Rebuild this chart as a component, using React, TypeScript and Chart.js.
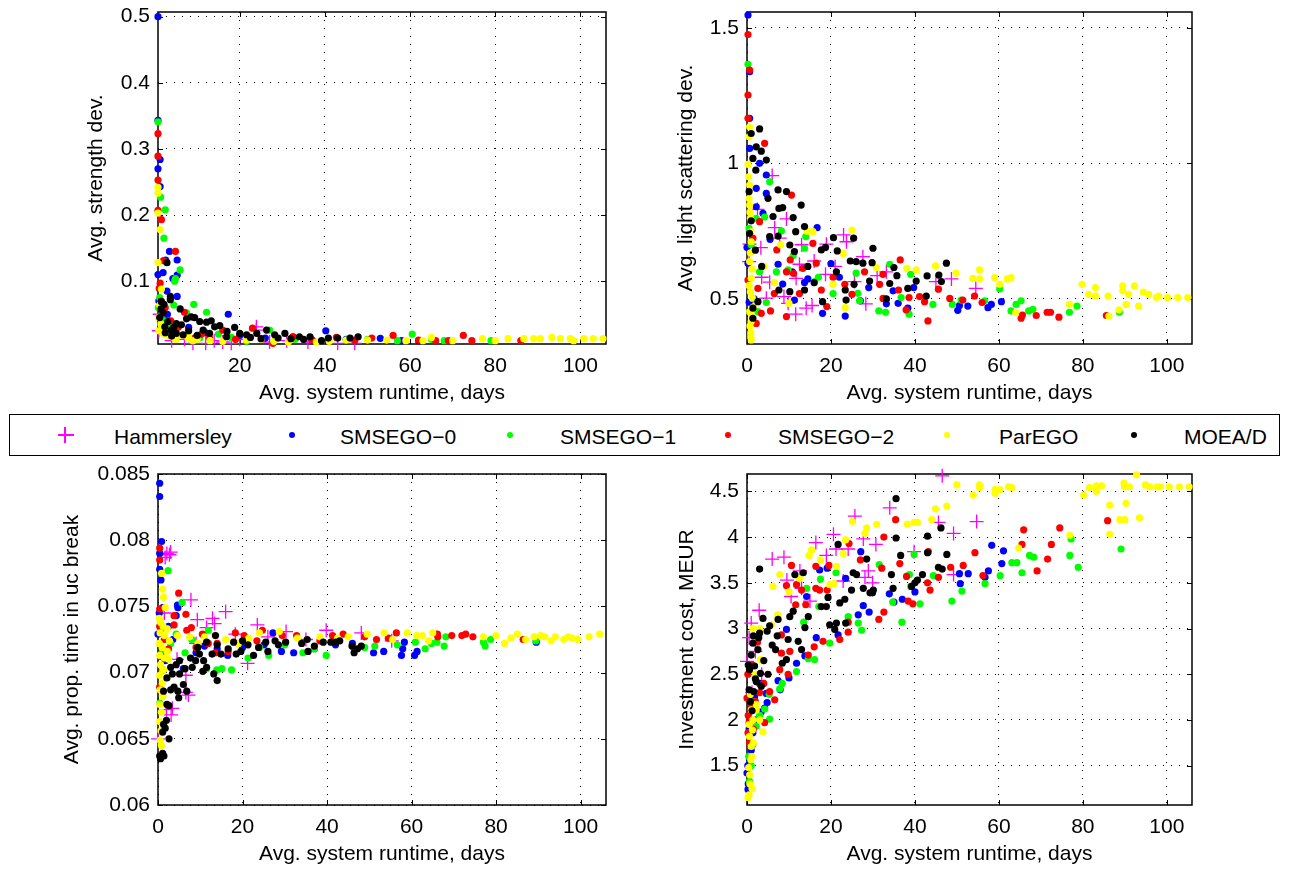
import React, { useEffect, useRef } from "react";
import { Chart, registerables } from "chart.js";

Chart.register(...registerables);

type P = [number, number];

const FONT = "'Liberation Sans', Arial, Helvetica, sans-serif";

const SERIES_NAMES = ["Hammersley", "SMSEGO\u22120", "SMSEGO\u22121", "SMSEGO\u22122", "ParEGO", "MOEA/D"];
const SERIES_COLORS = ["#ff00ff", "#0000ff", "#00ff00", "#ff0000", "#ffff00", "#000000"];

const X_TITLE = "Avg. system runtime, days";
const Y_TITLES = ["Avg. strength dev.", "Avg. light scattering dev.", "Avg. prop. time in uc break", "Investment cost, MEUR"];

const xTicksTL = [20, 40, 60, 80, 100];
const xTicksFull = [0, 20, 40, 60, 80, 100];
const yTicksTL = [0.1, 0.2, 0.3, 0.4, 0.5];
const yTicksTR = [0.5, 1, 1.5];
const yTicksBL = [0.06, 0.065, 0.07, 0.075, 0.08, 0.085];
const yTicksBR = [1.5, 2, 2.5, 3, 3.5, 4, 4.5];

// ---------- Top-left: Avg. strength dev. ----------
const tlHammersley: P[] = [[1.2,0.05],[2,0.045],[3,0.03],[5,0.02],[7,0.012],[9,0.006],[12,0.006],[16,0.008],[20,0.012],[23.9,0.026],[23.9,0.031],[27,0.008],[31,0.01],[36,0.008],[43,0.006],[47,0.006],[1,0.025],[4,0.01],[14,0.01],[18,0.006]];
const tlSmsego0: P[] = [[0.8,0.5],[0.8,0.343],[1.3,0.284],[0.8,0.27],[1.3,0.243],[0.8,0.11],[2,0.113],[3.5,0.145],[2.6,0.132],[5.3,0.132],[5.3,0.109],[4.3,0.104],[2.9,0.085],[5.3,0.077],[1,0.07],[1.5,0.06],[3,0.05],[17.3,0.05],[40.2,0.025],[53,0.0136],[32.5,0.016],[37,0.011],[58,0.01],[62,0.01],[8,0.03],[12,0.022],[20,0.018],[26,0.014],[45,0.012],[3.2,0.038]];
const tlSmsego1: P[] = [[0.8,0.341],[1.4,0.227],[2.5,0.208],[2.2,0.165],[6,0.117],[4.9,0.104],[4.7,0.1],[1.2,0.075],[9.2,0.065],[12.2,0.053],[4.5,0.064],[7.5,0.052],[60.5,0.02],[68,0.01],[79,0.01],[57,0.01],[27,0.026],[21.6,0.009],[10.6,0.014],[0.9,0.06],[2,0.04],[3.5,0.03],[15,0.02],[33,0.012],[45,0.011],[50,0.012],[65,0.012],[18,0.015]];
const tlSmsego2: P[] = [[0.8,0.323],[0.8,0.289],[0.8,0.253],[0.8,0.207],[1.6,0.193],[2.1,0.131],[4.9,0.145],[1.3,0.097],[1.1,0.089],[7,0.053],[16,0.026],[23,0.029],[32.5,0.016],[42.7,0.015],[51,0.014],[56,0.018],[66,0.01],[69,0.01],[72.5,0.018],[74.5,0.01],[86,0.01],[9.4,0.014],[12.9,0.014],[27.8,0.006],[1.5,0.07],[2.5,0.06],[3.8,0.04],[5.5,0.03],[11,0.02],[19,0.012],[37,0.011],[47,0.01],[62,0.011]];
const tlParego: P[] = [[0.8,0.242],[0.8,0.233],[0.8,0.203],[1.3,0.178],[0.8,0.128],[1.6,0.088],[1.2,0.064],[2,0.021],[2.7,0.019],[7.8,0.014],[16,0.009],[31.4,0.008],[41,0.009],[50,0.011],[54.5,0.011],[59,0.01],[63,0.01],[65,0.015],[77,0.013],[80,0.01],[83,0.013],[86.7,0.013],[89,0.013],[90.6,0.013],[93.3,0.015],[95.3,0.013],[97.6,0.013],[98.4,0.01],[100.8,0.013],[103,0.013],[105.3,0.013],[45,0.011],[38,0.008],[21.6,0.011],[0.9,0.045],[1.5,0.035],[3.5,0.017],[5,0.012],[10,0.012],[13,0.01],[25,0.012],[28,0.009],[70,0.01],[1,0.025],[2,0.026],[3,0.02],[4.5,0.015],[6,0.018],[8,0.015],[9,0.01]];
const tlMoead: P[] = [[2.9,0.128],[3.7,0.077],[3.7,0.072],[6,0.058],[1.6,0.069],[2,0.052],[3.1,0.039],[5.1,0.036],[7.5,0.043],[9.4,0.045],[2.4,0.031],[3.9,0.026],[6.3,0.034],[8.6,0.046],[10.6,0.039],[12.2,0.038],[13.3,0.04],[14.1,0.031],[15.3,0.033],[11.4,0.026],[12.9,0.021],[18.8,0.03],[20,0.021],[21.6,0.019],[24,0.021],[26.3,0.026],[28.2,0.019],[30.6,0.021],[34,0.016],[36.5,0.016],[39.2,0.01],[40.8,0.014],[43,0.014],[45.9,0.014],[47.8,0.016],[16.9,0.016],[6.7,0.019],[5.1,0.021],[1.2,0.045],[1.5,0.058],[2.2,0.065],[4.5,0.03],[8,0.025],[10,0.018],[17,0.024],[22.5,0.015],[25,0.013],[29,0.014],[32,0.013],[35,0.012],[2.5,0.022],[4,0.017]];

// ---------- Top-right: Avg. light scattering dev. ----------
const trHammersley: P[] = [[6,0.955],[6.6,0.763],[9.4,0.795],[3.3,0.689],[7.8,0.724],[23,0.736],[23.7,0.711],[27.6,0.656],[18.9,0.702],[12.5,0.628],[11.7,0.576],[18.7,0.591],[15.5,0.476],[14.1,0.466],[11.6,0.444],[5.4,0.562],[4.6,0.503],[8.8,0.509],[9.8,0.484],[28.3,0.482],[33.2,0.6],[31,0.586],[45,0.564],[48.7,0.574],[54.5,0.539],[25.6,0.564],[0.6,0.702],[0.5,0.638],[2.5,0.83],[16,0.64],[21,0.62],[13,0.7],[3.5,0.58]];
const trSmsego0: P[] = [[0.24,1.547],[0.63,1.338],[0.63,1.166],[0.63,1.055],[3,1.0],[4.6,0.957],[2.2,0.908],[4.6,0.889],[2.2,0.84],[3.8,0.816],[7.4,0.628],[16.7,0.763],[18,0.447],[23.4,0.437],[27,0.493],[29,0.542],[33.2,0.482],[34.8,0.53],[36,0.484],[38.3,0.466],[39.7,0.542],[50.2,0.458],[50.6,0.476],[52.6,0.474],[57.4,0.468],[58.2,0.48],[60.6,0.49],[0,0.69],[0.24,0.632],[0.5,0.488],[1.7,0.5],[11.3,0.496],[13.7,0.561],[14.5,0.574],[20,0.63],[8.5,0.555],[10.8,0.6],[5.5,0.72],[22,0.58]];
const trSmsego1: P[] = [[0.24,1.365],[2.2,0.797],[4.2,0.802],[5.4,0.932],[8.2,0.751],[9.8,0.607],[14,0.73],[13.7,0.687],[7,0.6],[16.1,0.564],[26,0.595],[26.4,0.521],[26.8,0.493],[31.4,0.456],[33,0.451],[34,0.628],[36.7,0.505],[38.6,0.444],[39,0.591],[44.3,0.48],[48.9,0.48],[51,0.496],[56.6,0.493],[60.2,0.537],[62.9,0.456],[64.1,0.48],[65.3,0.493],[67.1,0.456],[68.1,0.462],[76.8,0.451],[78.6,0.474],[88.7,0.451],[0.5,0.76],[1,0.7],[2.6,0.453],[4.6,0.487],[3,0.6],[17,0.58],[11,0.66],[20.5,0.52]];
const trSmsego2: P[] = [[0.24,1.475],[0.63,1.344],[0.24,1.252],[0.24,1.166],[4.2,1.074],[10.6,0.883],[3,0.785],[1.4,0.724],[15.7,0.705],[7.1,0.681],[10.3,0.644],[9.4,0.6],[16.5,0.632],[11.1,0.594],[13.3,0.613],[0.24,0.57],[2.6,0.539],[3.4,0.447],[5.6,0.456],[9.4,0.435],[2.2,0.41],[17.7,0.533],[19,0.472],[23.3,0.554],[25,0.517],[32.4,0.591],[31.6,0.554],[32.4,0.502],[36.5,0.644],[36.1,0.533],[38.6,0.505],[37.9,0.46],[41.1,0.509],[42.3,0.49],[43.1,0.419],[45.6,0.536],[48.3,0.502],[51.4,0.496],[54.2,0.511],[56,0.487],[65.3,0.429],[65.6,0.441],[68.9,0.439],[71.5,0.451],[72.3,0.451],[74.3,0.433],[85.6,0.439],[6.5,0.52],[20.5,0.58],[28,0.6],[12.5,0.52]];
const trParego: P[] = [[0.63,1.135],[0.5,1.098],[0.24,0.996],[0.63,0.92],[0.63,0.846],[0.8,0.797],[0.9,0.748],[1,0.711],[0.63,0.638],[1,0.576],[0.8,0.527],[1.3,0.503],[0.63,0.453],[1,0.417],[0.9,0.374],[1,0.349],[0.5,0.87],[0.8,0.67],[1.2,0.61],[0.5,0.55],[1.5,0.47],[0.7,0.4],[0.9,0.36],[1.1,0.44],[0.4,0.95],[0.7,0.82],[25,0.754],[23.4,0.468],[15.7,0.748],[22.9,0.668],[30.8,0.616],[38.1,0.613],[40.3,0.607],[44.9,0.622],[49.8,0.595],[53.8,0.576],[55.4,0.607],[55.4,0.574],[59,0.579],[60.2,0.554],[62,0.574],[62.9,0.579],[76.8,0.48],[79.8,0.554],[81.4,0.517],[83,0.542],[83,0.511],[86,0.511],[86.2,0.437],[88.6,0.46],[89.5,0.548],[89.5,0.53],[90.3,0.48],[90.9,0.517],[92.3,0.548],[93.3,0.474],[94.4,0.525],[95.7,0.517],[97.5,0.505],[98.1,0.511],[100.2,0.505],[102.6,0.505],[105,0.505],[10,0.484],[20.5,0.554],[14.3,0.75],[4,0.62],[6.5,0.56],[8,0.7],[64,0.45]];
const trMoead: P[] = [[3,1.127],[1,1.11],[2.2,1.061],[3.4,1.045],[4.6,1.012],[1.4,1.018],[2.1,0.975],[0.5,0.896],[1,0.788],[0.6,0.742],[7.4,0.902],[9.4,0.896],[7.6,0.834],[8.5,0.837],[5,0.871],[6.2,0.804],[11,0.8],[12.9,0.846],[13.7,0.767],[11.6,0.748],[5.4,0.73],[7.4,0.732],[10.2,0.699],[11.3,0.675],[17.7,0.681],[18.7,0.69],[20.6,0.726],[21.5,0.677],[25.4,0.724],[27.6,0.632],[30,0.687],[29.8,0.634],[26,0.638],[24.6,0.64],[21.3,0.6],[23.4,0.533],[25.5,0.554],[29.2,0.566],[34,0.557],[35,0.616],[35.7,0.586],[38.3,0.539],[40.3,0.566],[42.9,0.585],[42.7,0.511],[45.7,0.588],[46.3,0.564],[47.5,0.632],[1.4,0.466],[1.4,0.429],[2.6,0.49],[18,0.49],[33.2,0.5],[7.6,0.533],[10.2,0.527],[23.6,0.496],[13.7,0.533],[3.5,0.62],[2,0.68],[14.5,0.62],[16,0.56]];

// ---------- Bottom-left: Avg. prop. time in uc break ----------
const blHammersley: P[] = [[2.7,0.0789],[2.1,0.079],[1.7,0.0787],[3,0.0791],[7.8,0.0755],[16,0.0746],[12.9,0.0741],[9.3,0.074],[23.5,0.0736],[30.3,0.0731],[39.8,0.0732],[48.1,0.073],[55.3,0.0724],[21.2,0.0707],[6.6,0.0698],[6.6,0.0685],[3.1,0.0668],[3.4,0.0673],[0,0.065],[11.5,0.0734],[18.3,0.0729],[13.4,0.0737],[7.2,0.0683],[2,0.0672],[4.5,0.071],[1.5,0.0745],[26,0.0727],[35,0.0725],[9,0.0722]];
const blSmsego0: P[] = [[0.4,0.0843],[0.4,0.0833],[0.85,0.0799],[0.4,0.079],[0.4,0.0778],[0.7,0.077],[0.3,0.0745],[4.7,0.0749],[4.3,0.0743],[4.6,0.0751],[1.1,0.0749],[27.2,0.073],[32.1,0.0715],[51,0.0715],[53.4,0.0716],[57.6,0.0713],[57.9,0.0718],[60.7,0.0713],[61.3,0.0716],[58.3,0.0723],[89.5,0.0723],[14,0.0718],[20,0.0719],[25.1,0.0721],[29.2,0.0716],[0,0.0729],[1.7,0.0709],[3.5,0.0725],[6,0.0703],[9,0.0715],[11,0.072],[16.5,0.0713],[37,0.0718],[42,0.0721],[46,0.0722],[2.5,0.0735]];
const blSmsego1: P[] = [[2.4,0.0777],[5.7,0.0753],[4.3,0.0729],[11.9,0.0732],[11.5,0.0703],[13.9,0.0702],[15.1,0.0703],[17.4,0.0702],[0.4,0.0677],[6.4,0.0715],[21.3,0.0711],[26.2,0.0713],[34.3,0.0715],[37,0.0718],[39.8,0.0713],[46.4,0.0718],[48.9,0.0719],[51.3,0.072],[56.6,0.0721],[60.9,0.0723],[63.2,0.0718],[64.7,0.0722],[66,0.0723],[67.7,0.072],[68.1,0.0727],[77,0.0723],[77.4,0.072],[78.7,0.0725],[89.4,0.0724],[0.6,0.0732],[8,0.0725],[19,0.0722],[24,0.0719],[30,0.0721],[3,0.0722],[1,0.0716]];
const blSmsego2: P[] = [[0.4,0.0794],[0.4,0.0785],[0.4,0.0748],[0.4,0.0735],[0.4,0.0689],[4.9,0.076],[6.6,0.0744],[3.8,0.0743],[3.8,0.0736],[6.8,0.0732],[7.9,0.0734],[10.5,0.0729],[11.9,0.0722],[14,0.0722],[18.3,0.073],[20.4,0.0728],[23.4,0.0724],[24.7,0.0732],[29.4,0.0728],[32.8,0.0728],[38.3,0.0724],[41.3,0.0728],[43.8,0.0729],[48.9,0.0727],[51.7,0.0725],[54.5,0.0726],[56.4,0.073],[66.1,0.0729],[66.2,0.0727],[69.5,0.0728],[71.9,0.0728],[72.8,0.0729],[74.5,0.0727],[86.4,0.0725],[13.6,0.0715],[16.6,0.0716],[1.5,0.0725],[2.5,0.0718],[9,0.0719],[0.8,0.0712],[1.2,0.0702]];
const blParego: P[] = [[0.85,0.0775],[1.1,0.0763],[1.3,0.0757],[1.7,0.0749],[0.3,0.0741],[0.6,0.0738],[1.2,0.0735],[2.2,0.0733],[0.5,0.073],[1.5,0.0728],[2.7,0.0724],[0.3,0.0722],[1,0.0719],[2.2,0.0716],[0.4,0.0713],[1.5,0.0711],[2.5,0.071],[0.6,0.0706],[1.3,0.0702],[0.4,0.0698],[1,0.0692],[0.5,0.0687],[1.2,0.0682],[0.4,0.0676],[0.8,0.067],[0.4,0.0663],[0.7,0.0656],[0.5,0.0649],[0.8,0.0645],[4.6,0.0728],[7.5,0.0727],[9.5,0.0722],[11,0.0727],[13.5,0.0728],[16,0.0725],[19,0.0722],[21.5,0.0726],[24,0.073],[28.7,0.0731],[33,0.0726],[38.3,0.0727],[42.5,0.0726],[45,0.0727],[49.5,0.0729],[53.5,0.073],[55.5,0.0725],[59,0.073],[61.2,0.0728],[62.6,0.0728],[64,0.0724],[65,0.073],[77,0.0727],[80,0.0728],[82,0.0722],[83.5,0.0726],[85,0.0729],[87,0.0725],[89,0.0727],[90.5,0.0728],[91.5,0.0727],[93,0.0724],[94,0.0727],[96,0.0725],[97,0.0727],[98,0.0726],[99.3,0.0725],[102,0.0727],[104.5,0.0729]];
const blMoead: P[] = [[0.4,0.0637],[1.1,0.0639],[0.6,0.0635],[1.4,0.0637],[1.1,0.0655],[1.7,0.0658],[1.3,0.0661],[2,0.0664],[2.6,0.0675],[2.1,0.0676],[2.6,0.065],[1.3,0.0686],[2.1,0.0696],[3.4,0.0699],[3,0.0704],[4.3,0.0706],[5.1,0.0709],[3,0.0687],[3.8,0.0689],[4.7,0.0686],[6,0.0691],[4.9,0.0681],[6.8,0.0686],[5.1,0.0699],[6.4,0.0703],[7.7,0.0711],[8.9,0.0709],[8.1,0.0704],[9.8,0.0714],[10.8,0.0709],[11.5,0.0704],[13.2,0.0699],[14,0.0694],[10.6,0.0701],[9.4,0.0719],[11.5,0.0723],[12.8,0.0714],[13.6,0.0728],[14,0.0721],[14.9,0.0714],[16.6,0.0718],[17.9,0.0723],[18.5,0.0714],[20,0.0724],[19.6,0.0716],[21.3,0.0721],[22.6,0.0713],[23.8,0.0719],[25.5,0.0723],[26,0.0716],[27.7,0.0724],[28.5,0.0721],[30.2,0.0723],[34,0.0722],[35.3,0.0725],[35.5,0.0716],[37,0.072],[39.1,0.0723],[40.9,0.0723],[42.1,0.0723],[43,0.0724],[45.9,0.072],[46.4,0.0715],[47.2,0.0718],[48.1,0.072]];

// ---------- Bottom-right: Investment cost, MEUR ----------
const brHammersley: P[] = [[0,2.64],[1,3.06],[2.9,3.2],[6,3.76],[8.8,3.78],[9.5,3.53],[12.6,3.63],[13,3.44],[16.4,3.94],[18.9,3.8],[20.6,4.03],[21.2,3.87],[24.1,3.87],[25.7,4.23],[27.7,3.98],[28.1,3.56],[28.9,3.63],[30.7,3.92],[29.9,3.5],[34,4.32],[39.8,3.84],[45.6,4.16],[46.5,4.67],[49.2,4.04],[49.2,3.59],[54.7,4.17],[22.9,3.52],[2,2.75],[3.5,2.5],[1.2,2.3],[0.5,2.9],[10.5,3.35],[15,3.3]];
const brSmsego0: P[] = [[0,1.42],[0.24,1.24],[0.6,1.57],[1,1.67],[1.4,1.86],[2.2,2.0],[3.4,2.09],[4.2,2.13],[4.8,2.19],[4.6,2.29],[7.4,2.43],[7.9,2.33],[10,2.46],[9.4,2.99],[11.8,2.62],[13.8,2.7],[14.2,3.35],[16.5,2.9],[17.3,3.64],[19.1,3.66],[21.7,2.93],[23.5,3.55],[26.5,3.15],[27.1,3.84],[27.7,3.25],[29.1,3.18],[33.9,3.38],[35,3.29],[37,3.32],[40,3.4],[50.6,3.6],[50.8,3.49],[52.7,3.6],[56.7,3.56],[57.5,3.63],[58.3,3.91],[60.7,3.71],[61.1,3.85],[0.3,1.3],[0.5,1.9],[1.8,2.25],[3,2.4],[0.8,2.1],[0.2,1.5]];
const brSmsego1: P[] = [[0.6,1.33],[1.4,1.73],[2.2,1.93],[4.2,2.12],[5.4,2.01],[5.3,2.28],[7.8,2.34],[8.4,2.4],[11.8,2.53],[14.6,2.67],[16.1,2.66],[13.5,3.07],[14.2,3.44],[17.1,3.24],[17.5,3.54],[19.7,2.84],[21.2,3.61],[24.1,3.13],[26.5,3.06],[27.3,2.98],[31.5,3.7],[34.7,3.29],[36.9,3.07],[38.7,3.59],[39,3.46],[39.8,3.81],[41.2,3.27],[44.4,3.58],[48.8,3.3],[51.2,3.41],[56.7,3.49],[60.3,3.58],[63.1,3.72],[64.3,3.72],[65.5,3.61],[67.3,3.8],[68.3,3.78],[76.9,3.8],[77.2,3.98],[78.9,3.67],[89.1,3.87],[1,1.5],[0.4,1.6],[1.8,2.2],[3,2.05]];
const brSmsego2: P[] = [[0,2.24],[0.5,1.97],[0.24,1.86],[4.2,1.97],[6.6,2.22],[5.4,2.31],[7.8,2.55],[8.2,2.73],[8.2,2.93],[9.8,2.5],[10.2,2.75],[9.4,3.47],[10.6,3.69],[11.8,3.48],[11.6,3.26],[13,3.42],[14,3.26],[14.6,2.71],[16,2.8],[16.4,3.44],[16.4,3.68],[17.3,3.42],[18.1,2.86],[19.1,3.42],[19.5,3.69],[22.1,2.88],[24.1,2.96],[24.3,3.93],[24.1,3.07],[27,3.75],[31.4,3.1],[32.6,3.18],[32.1,3.66],[32.6,4.0],[35.4,4.19],[36.4,3.71],[38,3.57],[38.4,3.3],[39.5,3.27],[43,3.5],[43.2,3.84],[43.6,3.42],[45.6,3.56],[48.5,3.67],[51.5,3.69],[54.3,3.83],[56.2,3.58],[65.5,3.92],[65.9,4.08],[69.1,3.63],[71.6,3.76],[72.5,3.92],[74.5,4.1],[85.9,4.18],[0.3,2.05],[1,2.15],[1.5,1.9],[2,2.2],[0.6,1.75],[3,2.3],[4,2.4],[0.2,2.5],[1.2,2.6],[2.5,2.85]];
const brParego: P[] = [[0.24,1.15],[0.5,1.18],[0.64,1.4],[0.9,1.565],[1,1.71],[0.6,1.82],[1.3,1.89],[1.4,2.0],[1,2.11],[0.8,2.28],[2.2,2.17],[3.8,1.87],[2.2,2.11],[0.7,1.3],[1.1,1.6],[1.5,1.75],[0.5,1.95],[0.4,1.48],[1.2,1.25],[3,2.0],[3.2,2.66],[1.4,3.0],[2,2.5],[3,3.0],[6.2,3.46],[5.8,3.04],[7.8,3.59],[15.4,3.86],[14.8,3.8],[19.7,3.48],[20.7,3.49],[21.3,3.68],[22.9,3.82],[23.5,3.97],[25.1,4.17],[28.1,4.04],[28.5,4.1],[30.9,4.14],[38.2,4.14],[39.8,4.16],[40.6,4.16],[44,4.19],[44.9,4.31],[47.6,4.34],[50,4.57],[53.9,4.46],[55.4,4.57],[55.4,4.54],[59.1,4.52],[59.1,4.48],[60.3,4.52],[62.3,4.55],[63.1,4.54],[64.7,3.88],[76.9,4.02],[80.2,4.46],[81.6,4.54],[83.2,4.56],[83.2,4.5],[84.5,4.56],[86.4,4.35],[86.4,4.03],[88.8,4.19],[89.8,4.59],[89.9,4.55],[90,4.19],[90.3,4.37],[91.1,4.55],[92.8,4.68],[93.5,4.21],[94.9,4.57],[95.9,4.55],[97.7,4.55],[98.5,4.55],[100.6,4.55],[103,4.55],[105.3,4.55],[7.3,3.15],[10,3.4],[12.5,3.55],[17.5,3.75]];
const brMoead: P[] = [[3,3.65],[1.6,2.31],[0.6,2.55],[1,2.71],[1.4,2.84],[2.6,2.77],[3,2.95],[3.8,3.11],[4.8,2.97],[5.4,3.03],[6,2.82],[7.2,2.92],[6.8,2.77],[7.4,3.1],[8.4,2.62],[9.4,2.66],[9.8,2.88],[10.2,3.13],[11,3.19],[11.4,3.59],[12.2,2.86],[13,2.77],[13.4,3.61],[13.8,3.01],[14.6,3.13],[17.7,3.24],[18.9,3.24],[19.3,3.34],[19.7,3.04],[20.9,2.99],[21.3,3.06],[21.7,3.92],[22.1,3.28],[23.3,3.32],[23.5,3.06],[24.9,3.42],[25.3,3.61],[26.1,3.59],[27.7,3.44],[28.5,3.76],[29.3,3.39],[29.9,3.39],[30.1,3.42],[34.4,3.59],[34.8,3.44],[35.5,3.99],[35.5,4.42],[36.6,3.8],[39.2,3.46],[40,3.5],[40.6,3.53],[41.8,3.59],[43,4.01],[43,3.83],[45.6,3.67],[46.2,4.1],[46.5,3.65],[47.6,3.81],[0.5,2.33],[1.8,2.59],[2.2,2.42],[3.4,2.37],[3.2,2.51],[0.8,2.2],[1.2,2.1],[2,2.45],[4,2.65],[5,2.5],[0.3,2.6],[1.5,2.92],[2.8,2.9]];

type PanelCfg = {
  left: number; top: number; width: number; height: number;
  xMin: number; xMax: number; yMin: number; yMax: number;
  xTicks: number[]; yTicks: number[];
  yTitle: string; yTitlePad: number;
  series: P[][];
};

const PANELS: PanelCfg[] = [
  { left: 158, top: 12, width: 448, height: 332, xMin: 0.8, xMax: 106, yMin: 0.005, yMax: 0.507, xTicks: xTicksTL, yTicks: yTicksTL, yTitle: Y_TITLES[0], yTitlePad: 36,
    series: [tlHammersley, tlSmsego0, tlSmsego1, tlSmsego2, tlParego, tlMoead] },
  { left: 747, top: 12, width: 445, height: 332, xMin: 0, xMax: 106, yMin: 0.334, yMax: 1.558, xTicks: xTicksFull, yTicks: yTicksTR, yTitle: Y_TITLES[1], yTitlePad: 37,
    series: [trHammersley, trSmsego0, trSmsego1, trSmsego2, trParego, trMoead] },
  { left: 158, top: 474, width: 448, height: 331, xMin: 0, xMax: 106, yMin: 0.06, yMax: 0.085, xTicks: xTicksFull, yTicks: yTicksBL, yTitle: Y_TITLES[2], yTitlePad: 12,
    series: [blHammersley, blSmsego0, blSmsego1, blSmsego2, blParego, blMoead] },
  { left: 747, top: 474, width: 445, height: 331, xMin: 0, xMax: 106, yMin: 1.07, yMax: 4.69, xTicks: xTicksFull, yTicks: yTicksBR, yTitle: Y_TITLES[3], yTitlePad: 38,
    series: [brHammersley, brSmsego0, brSmsego1, brSmsego2, brParego, brMoead] },
];

const YW = 110, PT = 20, PR = 15, XH = 70;

const framePlugin = {
  id: "matlabFrame",
  beforeDatasetsDraw(chart: any) {
    const { ctx, chartArea: a, scales } = chart;
    ctx.save();
    ctx.strokeStyle = "#000";
    ctx.lineWidth = 1.5;
    ctx.strokeRect(a.left, a.top, a.right - a.left, a.bottom - a.top);
    ctx.lineWidth = 1;
    ctx.beginPath();
    const tl = 5;
    scales.x.ticks.forEach((t: any) => {
      const p = Math.round(scales.x.getPixelForValue(t.value)) + 0.5;
      ctx.moveTo(p, a.bottom); ctx.lineTo(p, a.bottom - tl);
      ctx.moveTo(p, a.top); ctx.lineTo(p, a.top + tl);
    });
    scales.y.ticks.forEach((t: any) => {
      const p = Math.round(scales.y.getPixelForValue(t.value)) + 0.5;
      ctx.moveTo(a.left, p); ctx.lineTo(a.left + tl, p);
      ctx.moveTo(a.right, p); ctx.lineTo(a.right - tl, p);
    });
    ctx.stroke();
    ctx.restore();
  },
};

function Panel({ cfg }: { cfg: PanelCfg }) {
  const ref = useRef<HTMLCanvasElement>(null);
  useEffect(() => {
    const font = { family: FONT, size: 21 };
    const chart = new Chart(ref.current as HTMLCanvasElement, {
      type: "scatter",
      data: {
        datasets: cfg.series.map((pts, i) => ({
          label: SERIES_NAMES[i],
          data: pts.map(([x, y]) => ({ x, y })),
          order: 6 - i,
          pointStyle: i === 0 ? "cross" : "circle",
          pointRadius: i === 0 ? 7 : 3.6,
          pointBorderWidth: i === 0 ? 1.3 : 0,
          pointBorderColor: SERIES_COLORS[i],
          pointBackgroundColor: SERIES_COLORS[i],
          showLine: false,
          clip: false,
        })),
      },
      options: {
        animation: false,
        responsive: false,
        events: [],
        layout: { padding: { top: PT, right: PR, left: 0, bottom: 0 } },
        plugins: { legend: { display: false }, tooltip: { enabled: false } },
        scales: {
          x: {
            type: "linear", position: "bottom", min: cfg.xMin, max: cfg.xMax,
            afterBuildTicks: (s: any) => { s.ticks = cfg.xTicks.map((v) => ({ value: v })); },
            afterFit: (s: any) => { s.height = XH; s.paddingLeft = 0; s.paddingRight = 0; s.paddingTop = 0; s.paddingBottom = 0; },
            ticks: { padding: 10, autoSkip: false, maxRotation: 0, color: "#000", font, callback: (v: any) => String(v) },
            grid: { color: "#000", lineWidth: 1, drawTicks: false, tickLength: 0 },
            border: { display: false, dash: [1, 7] },
            title: { display: true, text: X_TITLE, color: "#000", font, padding: { top: 0, bottom: 8 } },
          },
          y: {
            type: "linear", position: "left", min: cfg.yMin, max: cfg.yMax,
            afterBuildTicks: (s: any) => { s.ticks = cfg.yTicks.map((v) => ({ value: v })); },
            afterFit: (s: any) => { s.width = YW; s.paddingLeft = 0; s.paddingRight = 0; s.paddingTop = 0; s.paddingBottom = 0; },
            ticks: { padding: 8, autoSkip: false, color: "#000", font, callback: (v: any) => String(v) },
            grid: { color: "#000", lineWidth: 1, drawTicks: false, tickLength: 0 },
            border: { display: false, dash: [1, 7] },
            title: { display: true, text: cfg.yTitle, color: "#000", font, padding: { top: cfg.yTitlePad, bottom: 0 } },
          },
        },
      } as any,
      plugins: [framePlugin],
    });
    return () => chart.destroy();
  }, [cfg]);
  return (
    <canvas
      ref={ref}
      width={cfg.width + YW + PR}
      height={cfg.height + PT + XH}
      style={{ position: "absolute", left: cfg.left - YW, top: cfg.top - PT, width: cfg.width + YW + PR, height: cfg.height + PT + XH }}
    />
  );
}

const LEGEND_MARKER_X = [65, 292, 510, 728, 947, 1134];
const LEGEND_TEXT_X = [114, 340, 560, 778, 999, 1184];

function Legend() {
  const cy = 435;
  return (
    <div>
      <div style={{ position: "absolute", left: 9, top: 414, width: 1271, height: 42, boxSizing: "border-box", border: "1.5px solid #000", background: "#fff" }} />
      {SERIES_NAMES.map((name, i) => (
        <React.Fragment key={name}>
          {i === 0 ? (
            <>
              <div style={{ position: "absolute", left: LEGEND_MARKER_X[i] - 7, top: cy - 1, width: 16, height: 2, background: SERIES_COLORS[i] }} />
              <div style={{ position: "absolute", left: LEGEND_MARKER_X[i] - 1, top: cy - 8, width: 2, height: 16, background: SERIES_COLORS[i] }} />
            </>
          ) : (
            <div style={{ position: "absolute", left: LEGEND_MARKER_X[i] - 3, top: cy - 3, width: 6, height: 6, borderRadius: "50%", background: SERIES_COLORS[i] }} />
          )}
          <div style={{ position: "absolute", left: LEGEND_TEXT_X[i], top: 436 - 10.5, fontFamily: FONT, fontSize: 21, lineHeight: "21px", color: "#000", whiteSpace: "nowrap" }}>
            {name}
          </div>
        </React.Fragment>
      ))}
    </div>
  );
}

export default function App() {
  return (
    <div>
      <Legend />
      {PANELS.map((cfg, i) => (
        <Panel key={i} cfg={cfg} />
      ))}
    </div>
  );
}
